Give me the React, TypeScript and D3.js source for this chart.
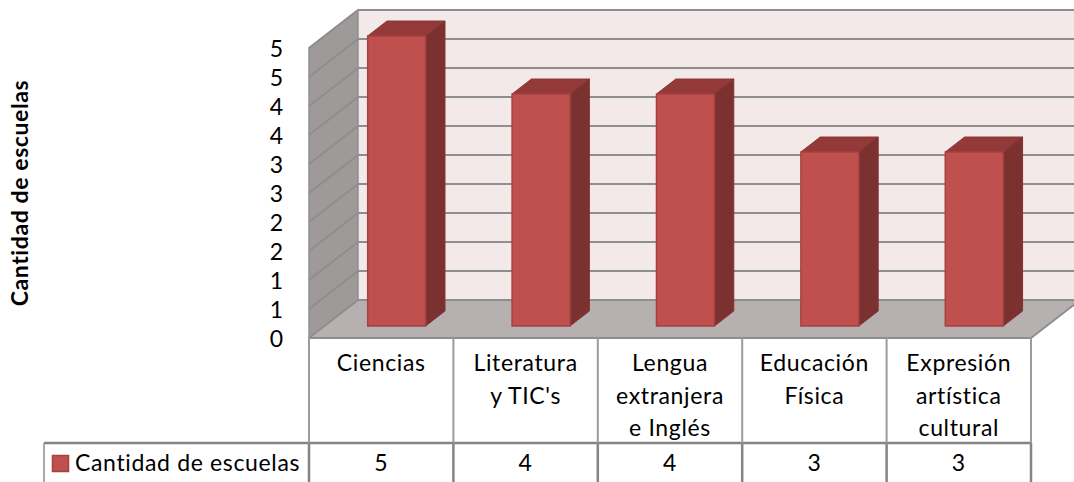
import * as d3 from "d3";

const categories = ["Ciencias", "Literatura y TIC's", "Lengua extranjera e Inglés", "Educación Física", "Expresión artística cultural"];
const categoryLines = [["Ciencias"], ["Literatura", "y TIC's"], ["Lengua", "extranjera", "e Inglés"], ["Educación", "Física"], ["Expresión", "artística", "cultural"]];
const values = [5, 4, 4, 3, 3];
const tickValues = [0, 0.5, 1, 1.5, 2, 2.5, 3, 3.5, 4, 4.5, 5];
const tickLabels = ["0", "1", "1", "2", "2", "3", "3", "4", "4", "5", "5"];
const seriesName = "Cantidad de escuelas";

const width = 1074;
const height = 482;
const font = "Lato, Carlito, sans-serif";

// oblique projection: depth 0 is the front plane, 1 the back wall
const depthX = d3.scaleLinear().domain([0, 1]).range([0, 49]);
const depthY = d3.scaleLinear().domain([0, 1]).range([0, -38]);
const x = d3.scaleBand<string>().domain(categories).range([309, 1031]).paddingInner(0).paddingOuter(0);
const y = d3.scaleLinear().domain([0, 5]).range([338, 48]);
const barWidth = 58;
const barDepthStart = 0.316;
const barDepthEnd = 0.71;

const project = (px: number, v: number, d: number): [number, number] => [px + depthX(d), y(v) + depthY(d)];
const poly = (pts: [number, number][]) => d3.line()(pts) + "Z";

const gridColor = "#8e8e8e";

export default function App() {
  const x0 = x.range()[0];
  const x1 = x.range()[1];
  const far = 1100;
  const tableTop = 338;
  const legendTop = 443;
  const cellEdges = [...categories.map((c) => x(c) as number), x1];

  return (
    <svg width={width} height={height} style={{ position: "absolute", left: 0, top: 0, display: "block" }} fontFamily={font}>
      {/* walls */}
      <path d={poly([project(x0, 5, 1), [far, y(5) - 38], [far, y(0) - 38], project(x0, 0, 1)])} fill="#f4e9e9" />
      <path d={poly([project(x0, 0, 0), project(x0, 5, 0), project(x0, 5, 1), project(x0, 0, 1)])} fill="#9e9a99" stroke="#8e9090" strokeWidth={1.5} />
      <path d={poly([project(x0, 0, 0), project(x0, 0, 1), [far, y(0) - 38], project(x1, 0, 1), project(x1, 0, 0)])} fill="#b7b0b0" />
      <path d={d3.line()([project(x1, 0, 0), project(x1, 0, 1)])!} stroke={gridColor} strokeWidth={2} fill="none" />

      {/* gridlines, side wall then back wall */}
      {tickValues.map((t) => (
        <g key={t} fill="none" stroke={gridColor} strokeWidth={2}>
          <path d={d3.line()([project(x0, t, 0), project(x0, t, 1)])!} />
          <path d={d3.line()([project(x0, t, 1), [far, y(t) - 38]])!} />
        </g>
      ))}

      {/* bars */}
      {categories.map((c, i) => {
        const left = (x(c) as number) + (x.bandwidth() - barWidth) / 2;
        const right = left + barWidth;
        const v = values[i];
        return (
          <g key={c}>
            <path d={poly([project(left, v, barDepthStart), project(right, v, barDepthStart), project(right, v, barDepthEnd), project(left, v, barDepthEnd)])} fill="#933a38" stroke="#8a3634" strokeWidth={1} />
            <path d={poly([project(right, 0, barDepthStart), project(right, v, barDepthStart), project(right, v, barDepthEnd), project(right, 0, barDepthEnd)])} fill="#7b3130" stroke="#843432" strokeWidth={1} />
            <path d={poly([project(left, 0, barDepthStart), project(left, v, barDepthStart), project(right, v, barDepthStart), project(right, 0, barDepthStart)])} fill="#c0504d" stroke="#a5423f" strokeWidth={1.5} />
          </g>
        );
      })}

      {/* value axis */}
      {tickValues.map((t, i) => (
        <text key={t} x={283} y={y(t) + 9} textAnchor="end" fontSize={23} fill="#000">
          {tickLabels[i]}
        </text>
      ))}
      <text transform="translate(28,193) rotate(-90)" textAnchor="middle" fontSize={23} letterSpacing={0.6} fontWeight={700} fill="#000">
        {seriesName}
      </text>

      {/* data table */}
      <g stroke={gridColor} fill="none">
        <path d={`M${x0},${tableTop}H${x1}`} strokeWidth={2} />
        <path d={`M44,${legendTop}H${x1}`} strokeWidth={2.5} stroke="#858585" />
        <path d={`M44,${legendTop}V${height}`} strokeWidth={1.5} />
        {cellEdges.map((e) => (
          <g key={e}>
            <path d={`M${e},${tableTop}V${legendTop}`} strokeWidth={2} stroke="#9c9c9c" />
            <path d={`M${e},${legendTop}V${height}`} strokeWidth={2.5} stroke="#858585" />
          </g>
        ))}
      </g>
      {categories.map((c, i) => (
        <g key={c} fontSize={23} letterSpacing={0.65} textAnchor="middle" fill="#000">
          {categoryLines[i].map((line, j) => (
            <text key={line} x={(x(c) as number) + x.bandwidth() / 2} y={371 + j * 32.5}>
              {line}
            </text>
          ))}
          <text x={(x(c) as number) + x.bandwidth() / 2} y={471}>
            {values[i]}
          </text>
        </g>
      ))}
      <rect x={52.5} y={455.5} width={16} height={16} fill="#c0504d" stroke="#a5423f" strokeWidth={1.5} />
      <text x={75} y={471} fontSize={23} letterSpacing={0.65} fill="#000">
        {seriesName}
      </text>
    </svg>
  );
}
